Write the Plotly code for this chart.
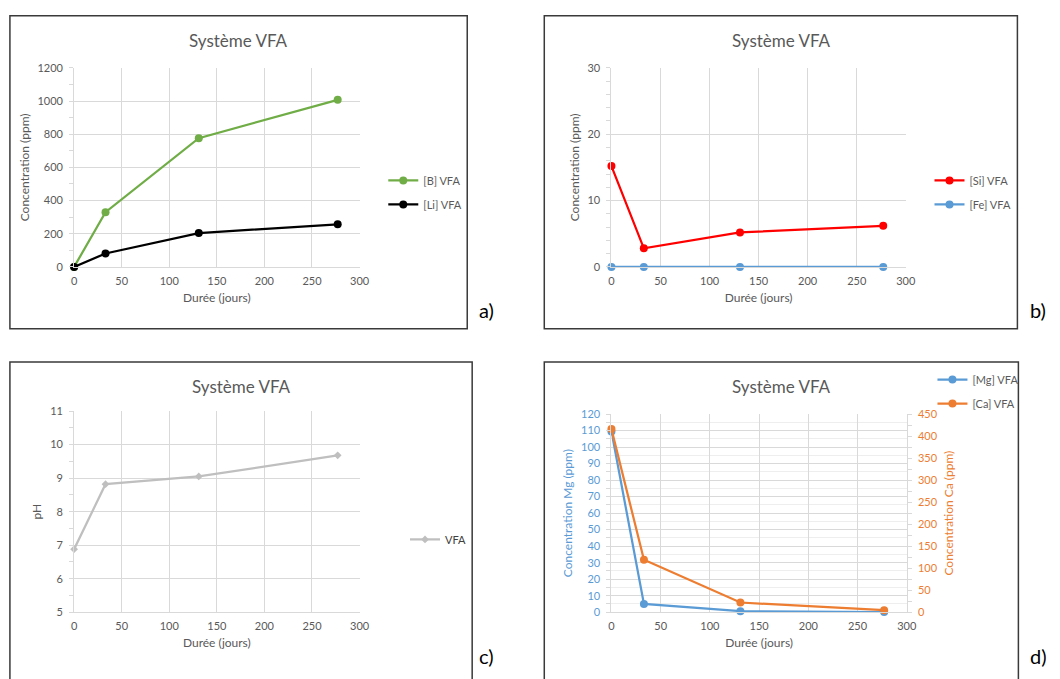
import plotly.graph_objects as go

# ---------------- data ----------------
days = [0, 33, 131, 277]
b_vfa = [0, 330, 776, 1007]
li_vfa = [0, 81, 204, 257]
si_vfa = [15.2, 2.8, 5.2, 6.2]
fe_vfa = [0, 0, 0, 0]
ph_vfa = [6.88, 8.82, 9.05, 9.68]
mg_vfa = [109.5, 5, 0.6, 0.1]
ca_vfa = [416, 119, 22, 4.5]

chart_title = "Système VFA"
x_title = "Durée (jours)"
panel_labels = ["a)", "b)", "c)", "d)"]

# ---------------- style ----------------
W, H = 1060, 679
FONT = "Lato"
TXT = "#595959"
GRID = "#D9D9D9"
MINOR = "#EEEEEE"
GREEN = "#70AD47"
BLACK = "#000000"
RED = "#FF0000"
BLUE = "#5B9BD5"
GRAY = "#BFBFBF"
ORANGE = "#ED7D31"


def fx(x):
    return x / W


def fy(y):
    return 1 - y / H


fig = go.Figure()

line_kw = dict(mode="lines+markers", cliponaxis=False)

# panel a
fig.add_trace(go.Scatter(x=days, y=b_vfa, name="[B] VFA", line=dict(color=GREEN, width=2.25),
                         marker=dict(size=8, color=GREEN), xaxis="x", yaxis="y",
                         legend="legend", legendgroup="a1", **line_kw))
fig.add_trace(go.Scatter(x=days, y=li_vfa, name="[Li] VFA", line=dict(color=BLACK, width=2.25),
                         marker=dict(size=8, color=BLACK), xaxis="x", yaxis="y",
                         legend="legend", legendgroup="a2", **line_kw))
# panel b
fig.add_trace(go.Scatter(x=days, y=si_vfa, name="[Si] VFA", line=dict(color=RED, width=2.25),
                         marker=dict(size=8, color=RED), xaxis="x2", yaxis="y2",
                         legend="legend2", legendgroup="b1", **line_kw))
fig.add_trace(go.Scatter(x=days, y=fe_vfa, name="[Fe] VFA", line=dict(color=BLUE, width=2.25),
                         marker=dict(size=8, color=BLUE), xaxis="x2", yaxis="y2",
                         legend="legend2", legendgroup="b2", **line_kw))
# panel c
fig.add_trace(go.Scatter(x=days, y=ph_vfa, name="VFA", line=dict(color=GRAY, width=2.25),
                         marker=dict(size=6, color=GRAY, symbol="diamond"), xaxis="x3", yaxis="y3",
                         legend="legend3", legendgroup="c1", **line_kw))
# panel d
fig.add_trace(go.Scatter(x=days, y=mg_vfa, name="[Mg] VFA", line=dict(color=BLUE, width=2.25),
                         marker=dict(size=8, color=BLUE), xaxis="x4", yaxis="y4",
                         legend="legend4", legendgroup="d1", **line_kw))
fig.add_trace(go.Scatter(x=days, y=ca_vfa, name="[Ca] VFA", line=dict(color=ORANGE, width=2.25),
                         marker=dict(size=8, color=ORANGE), xaxis="x4", yaxis="y5",
                         legend="legend4", legendgroup="d2", **line_kw))


def xaxis(domain, anchor):
    return dict(domain=domain, anchor=anchor, range=[0, 300], dtick=50, showgrid=True,
                gridcolor=GRID, gridwidth=1, showline=True, linecolor=GRID, linewidth=1,
                ticks="outside", ticklen=4, tickcolor="rgba(0,0,0,0)", zeroline=False,
                tickfont=dict(size=11, color=TXT, family=FONT),
                title=dict(text=x_title, font=dict(size=12, color=TXT, family=FONT), standoff=7),
                fixedrange=True)


def yaxis(domain, anchor, rng, dtick, minor_dtick, title, color=TXT, minor_grid=False, **kw):
    d = dict(domain=domain, anchor=anchor, range=rng, dtick=dtick, showgrid=True,
             gridcolor=GRID, gridwidth=1, showline=True, linecolor=GRID, linewidth=1,
             ticks="outside", ticklen=4, tickcolor=GRID, zeroline=False,
             ticklabelstandoff=4,
             tickfont=dict(size=11, color=color, family=FONT),
             title=dict(text=title, font=dict(size=12, color=color, family=FONT), standoff=5),
             minor=dict(dtick=minor_dtick, ticks="outside", ticklen=4, tickcolor=GRID,
                        showgrid=minor_grid, gridcolor=MINOR),
             fixedrange=True)
    d.update(kw)
    return d


xa_top = [fx(72), fx(361)]
xb_top = [fx(616), fx(914)]
xc = [fx(72), fx(361)]
xd = [fx(616), fx(915)]
y_top = [fy(265), fy(62)]
y_c = [fy(617), fy(412)]
y_d = [fy(617), fy(415)]

legend_common = dict(font=dict(size=11, color=TXT, family=FONT), bgcolor="rgba(0,0,0,0)",
                     borderwidth=0, itemwidth=30, tracegroupgap=5, xanchor="left", yanchor="top")

fig.update_layout(
    width=W, height=H,
    margin=dict(l=0, r=0, t=0, b=0),
    paper_bgcolor="white", plot_bgcolor="white",
    font=dict(family=FONT, color=TXT),
    xaxis=xaxis(xa_top, "y"),
    yaxis=yaxis(y_top, "x", [0, 1200], 200, 100, "Concentration (ppm)"),
    xaxis2=xaxis(xb_top, "y2"),
    yaxis2=yaxis(y_top, "x2", [0, 30], 10, 2, "Concentration (ppm)"),
    xaxis3=xaxis(xc, "y3"),
    yaxis3=yaxis(y_c, "x3", [5, 11], 1, 0.5, "pH"),
    xaxis4=xaxis(xd, "y4"),
    yaxis4=yaxis(y_d, "x4", [0, 120], 10, 5, "Concentration Mg (ppm)", color=BLUE, minor_grid=True),
    yaxis5=dict(overlaying="y4", anchor="x4", side="right", range=[0, 450], dtick=50,
                showgrid=False, showline=True, linecolor=GRID, linewidth=1, zeroline=False,
                ticks="outside", ticklen=4, tickcolor=GRID, ticklabelstandoff=4,
                tickfont=dict(size=11, color=ORANGE, family=FONT),
                title=dict(text="Concentration Ca (ppm)", font=dict(size=12, color=ORANGE, family=FONT),
                           standoff=7),
                minor=dict(dtick=25, ticks="outside", ticklen=4, tickcolor=GRID),
                fixedrange=True),
    legend=dict(x=fx(385), y=fy(162), **legend_common),
    legend2=dict(x=fx(938), y=fy(162), **legend_common),
    legend3=dict(x=fx(407), y=fy(528), **{**legend_common,
                                          "font": dict(size=11, color="#404040", family=FONT)}),
    legend4=dict(x=fx(941), y=fy(365), **legend_common),
    showlegend=True,
)

# panel frames
frames = [(7, 9, 470, 328), (548, 9, 1027, 328), (7, 362, 475, 700), (548, 362, 1028, 700)]
for (x0, y0, x1, y1) in frames:
    fig.add_shape(type="rect", xref="paper", yref="paper", x0=fx(x0), x1=fx(x1), y0=fy(y1), y1=fy(y0),
                  line=dict(color="#3A3A3A", width=1.5), fillcolor="rgba(0,0,0,0)", layer="below")

# chart titles
for (cx, cy) in [(238, 34), (788, 34), (241, 387), (788, 387)]:
    fig.add_annotation(text=chart_title, xref="paper", yref="paper", x=fx(cx), y=fy(cy),
                       showarrow=False, xanchor="center", yanchor="middle",
                       font=dict(size=17, color=TXT, family=FONT))

# panel letters
for lab, (cx, cy) in zip(panel_labels, [(490, 309), (1048, 309), (490, 662), (1048, 662)]):
    fig.add_annotation(text=lab, xref="paper", yref="paper", x=fx(cx), y=fy(cy),
                       showarrow=False, xanchor="center", yanchor="middle",
                       font=dict(size=20, color="#000000", family=FONT))

fig.write_html("out.html", config={"displayModeBar": False},
               post_script="document.body.style.margin='0';document.body.style.overflow='hidden';")
